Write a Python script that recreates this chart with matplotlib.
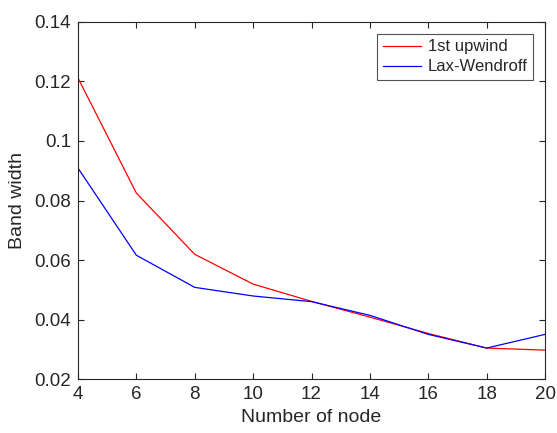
import matplotlib
matplotlib.use('Agg')
import matplotlib.pyplot as plt

plt.rcParams['font.family'] = ['Liberation Sans', 'DejaVu Sans']

nodes = [4, 6, 8, 10, 12, 14, 16, 18, 20]
upwind = [0.1212, 0.0825, 0.0619, 0.0519, 0.0461, 0.0408, 0.0353, 0.0304, 0.0297]
lax_wendroff = [0.0909, 0.0616, 0.0508, 0.0479, 0.0460, 0.0414, 0.0350, 0.0304, 0.0350]

dark = '#262626'

fig = plt.figure(figsize=(5.57, 4.33), dpi=100, facecolor='white')
ax = fig.add_axes([0.140, 0.1247, 0.8385, 0.8245])

ax.plot(nodes, upwind, color='red', linewidth=0.9, label='1st upwind')
ax.plot(nodes, lax_wendroff, color='blue', linewidth=0.9, label='Lax-Wendroff')

ax.set_xlim(4, 20)
ax.set_ylim(0.02, 0.14)
ax.set_xticks(range(4, 21, 2))
ax.set_yticks([0.02, 0.04, 0.06, 0.08, 0.1, 0.12, 0.14])
ax.set_yticklabels(['0.02', '0.04', '0.06', '0.08', '0.1', '0.12', '0.14'])

ax.tick_params(direction='in', top=True, right=True, length=4, width=0.8,
               colors=dark, labelsize=13.5, pad=5)
for spine in ax.spines.values():
    spine.set_color(dark)
    spine.set_linewidth(0.8)

ax.set_xlabel('Number of node', fontsize=14, color=dark, labelpad=4)
ax.set_ylabel('Band width', fontsize=14, color=dark, labelpad=6)

leg = ax.legend(loc='upper right', fontsize=12, frameon=True, fancybox=False,
                borderaxespad=0.7, handlelength=2.3, handletextpad=0.4,
                borderpad=0.35, labelspacing=0.3)
leg.get_frame().set_edgecolor(dark)
leg.get_frame().set_linewidth(0.8)
for t in leg.get_texts():
    t.set_color(dark)

fig.savefig('out.png', dpi=100, facecolor='white')
